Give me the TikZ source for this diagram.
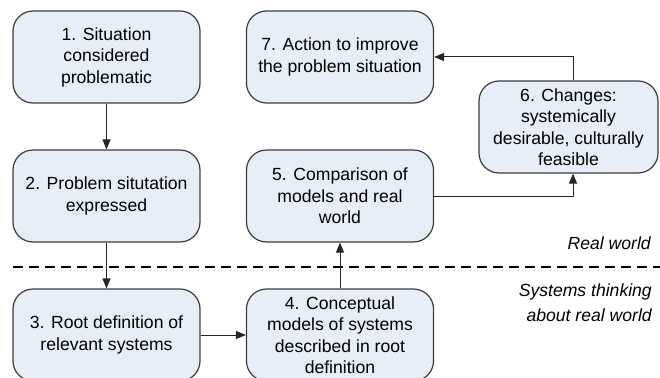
\documentclass[tikz,border=0pt]{standalone}
\usepackage{fontspec}
\setmainfont{Liberation Sans}
\usetikzlibrary{arrows.meta}
\definecolor{boxfill}{RGB}{232,238,248}
\definecolor{boxline}{RGB}{60,60,60}
\begin{document}
\begin{tikzpicture}[x=1pt,y=-1pt,
    stage/.style={draw=boxline,fill=boxfill,line width=1.2pt,rounded corners=20pt,
        minimum width=187pt,minimum height=92pt,align=center,inner sep=2pt,
        font=\fontsize{17.6}{21.5}\selectfont},
    flow/.style={draw=black!85,line width=1pt,-{Triangle[length=10pt,width=8pt]}},
    realm/.style={anchor=east,align=right,inner sep=0pt,font=\fontsize{17.6}{25}\selectfont\itshape}]
    \useasboundingbox (0,0) rectangle (660,377);
    % stages of the cycle
    \node[stage] (situation) at (106.5,57) {1. Situation\\considered\\problematic};
    \node[stage] (expressed) at (106.5,196) {2. Problem situtation\\expressed};
    \node[stage] (rootdef) at (106.5,335) {3. Root definition of\\relevant systems};
    \node[stage] (models) at (340,335) {4. Conceptual\\models of systems\\described in root\\definition};
    \node[stage] (compare) at (340,196) {5. Comparison of\\models and real\\world};
    \node[stage,minimum width=179pt] (changes) at (568.5,127) {6. Changes:\\systemically\\desirable, culturally\\feasible};
    \node[stage] (action) at (340,57) {7. Action to improve\\the problem situation};
    % boundary between the two worlds
    \draw[line width=1.6pt,dash pattern=on 10pt off 6pt] (13,267) -- (660,267);
    \node[realm] (realworld) at (651,243) {Real world};
    \node[realm] (sysworld) at (652,302.5) {Systems thinking\\about real world};
    % connectors
    \draw[flow] (situation) -- (expressed);
    \draw[flow] (expressed) -- (rootdef);
    \draw[flow] (rootdef) -- (models);
    \draw[flow] (models) -- (compare);
    \coordinate (turn) at ([xshift=4.5pt]changes.south);
    \draw[flow] (compare.east) -| (turn);
    \draw[flow] ([xshift=4.5pt]changes.north) |- (action.east);
\end{tikzpicture}
\end{document}
